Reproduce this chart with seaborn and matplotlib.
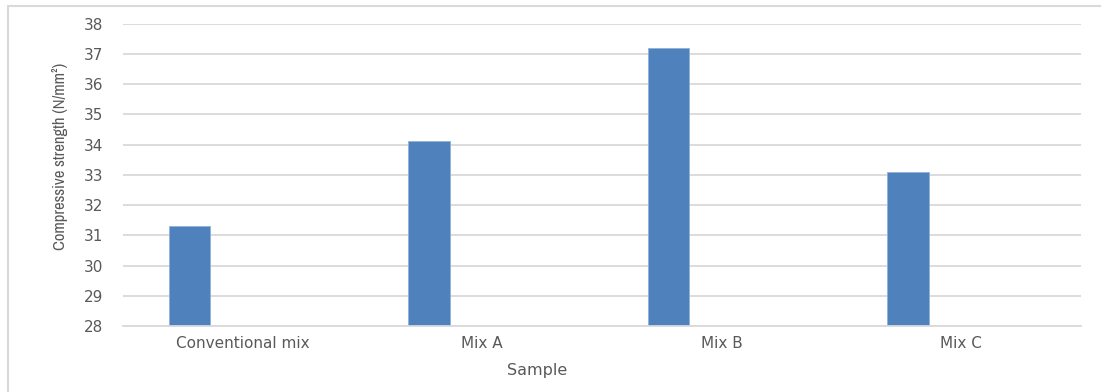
import matplotlib
matplotlib.use("Agg")
import matplotlib.pyplot as plt
from matplotlib import font_manager
from matplotlib.lines import Line2D
import seaborn as sns
import pandas as pd

# Compressive strength results per mix
samples = ["Conventional mix", "Mix A", "Mix B", "Mix C"]
strength = [31.3, 34.1, 37.2, 33.1]
series_names = ["Strength", "Spare"]  # second slot left empty, as in a clustered column chart
y_ticks = [28, 29, 30, 31, 32, 33, 34, 35, 36, 37, 38]

df = pd.DataFrame({"Sample": samples,
                   "Strength": strength,
                   "Series": [series_names[0]] * len(samples)})

sns.set_theme(style="white")
plt.rcParams["font.family"] = ["DejaVu Sans"]

# pick an upright, regular-weight narrow face for the axis title if one is installed
narrow = None
for f in font_manager.fontManager.ttflist:
    is_narrow = "Narrow" in f.name or ("Condensed" in f.name and "DejaVu" in f.name)
    if is_narrow and f.style == "normal" and f.weight in (400, "normal", "regular"):
        narrow = f
        break
if narrow is not None:
    ylabel_font = font_manager.FontProperties(fname=narrow.fname, size=12)
else:
    ylabel_font = font_manager.FontProperties(family="DejaVu Sans", size=9.5)

text_grey = "#595959"
grid_grey = "#D9D9D9"
bar_blue = "#4F81BD"

fig = plt.figure(figsize=(11.01, 3.92), dpi=100)
ax = fig.add_axes([123 / 1101, 1 - 326 / 392, (1081 - 123) / 1101, (326 - 23.5) / 392])

sns.barplot(data=df, x="Sample", y="Strength", hue="Series",
            hue_order=series_names, order=samples,
            palette={series_names[0]: bar_blue, series_names[1]: bar_blue},
            saturation=1, width=0.892, gap=0.61, dodge=True, legend=False,
            edgecolor="#8FB1DA", linewidth=0.6, ax=ax)

ax.set_ylim(y_ticks[0], y_ticks[-1])
ax.set_xlim(-0.5, len(samples) - 0.5)
ax.set_yticks(y_ticks)
ax.yaxis.grid(True, color=grid_grey, linewidth=1.3)
ax.set_axisbelow(True)
for side in ["left", "right", "top"]:
    ax.spines[side].set_visible(False)
ax.spines["bottom"].set_color(grid_grey)
ax.spines["bottom"].set_linewidth(1.3)

ax.tick_params(axis="y", length=0, pad=14, labelsize=11, labelcolor=text_grey)
ax.tick_params(axis="x", length=0, pad=7, labelsize=11, labelcolor=text_grey)

ax.set_xlabel("Sample", fontsize=11.5, color=text_grey)
ax.xaxis.set_label_coords(0.432, -0.122)
ax.set_ylabel("Compressive strength (N/mm²)", color=text_grey, fontproperties=ylabel_font)
ax.yaxis.set_label_coords(-0.0574, 0.562)

# chart-area frame along the top and left edges
fig.add_artist(Line2D([8 / 1101, 1.0], [1 - 6 / 392, 1 - 6 / 392],
                      transform=fig.transFigure, color=grid_grey, linewidth=1.5))
fig.add_artist(Line2D([8 / 1101, 8 / 1101], [0.0, 1 - 6 / 392],
                      transform=fig.transFigure, color=grid_grey, linewidth=1.5))

fig.savefig("out.png", dpi=100, facecolor="white")
